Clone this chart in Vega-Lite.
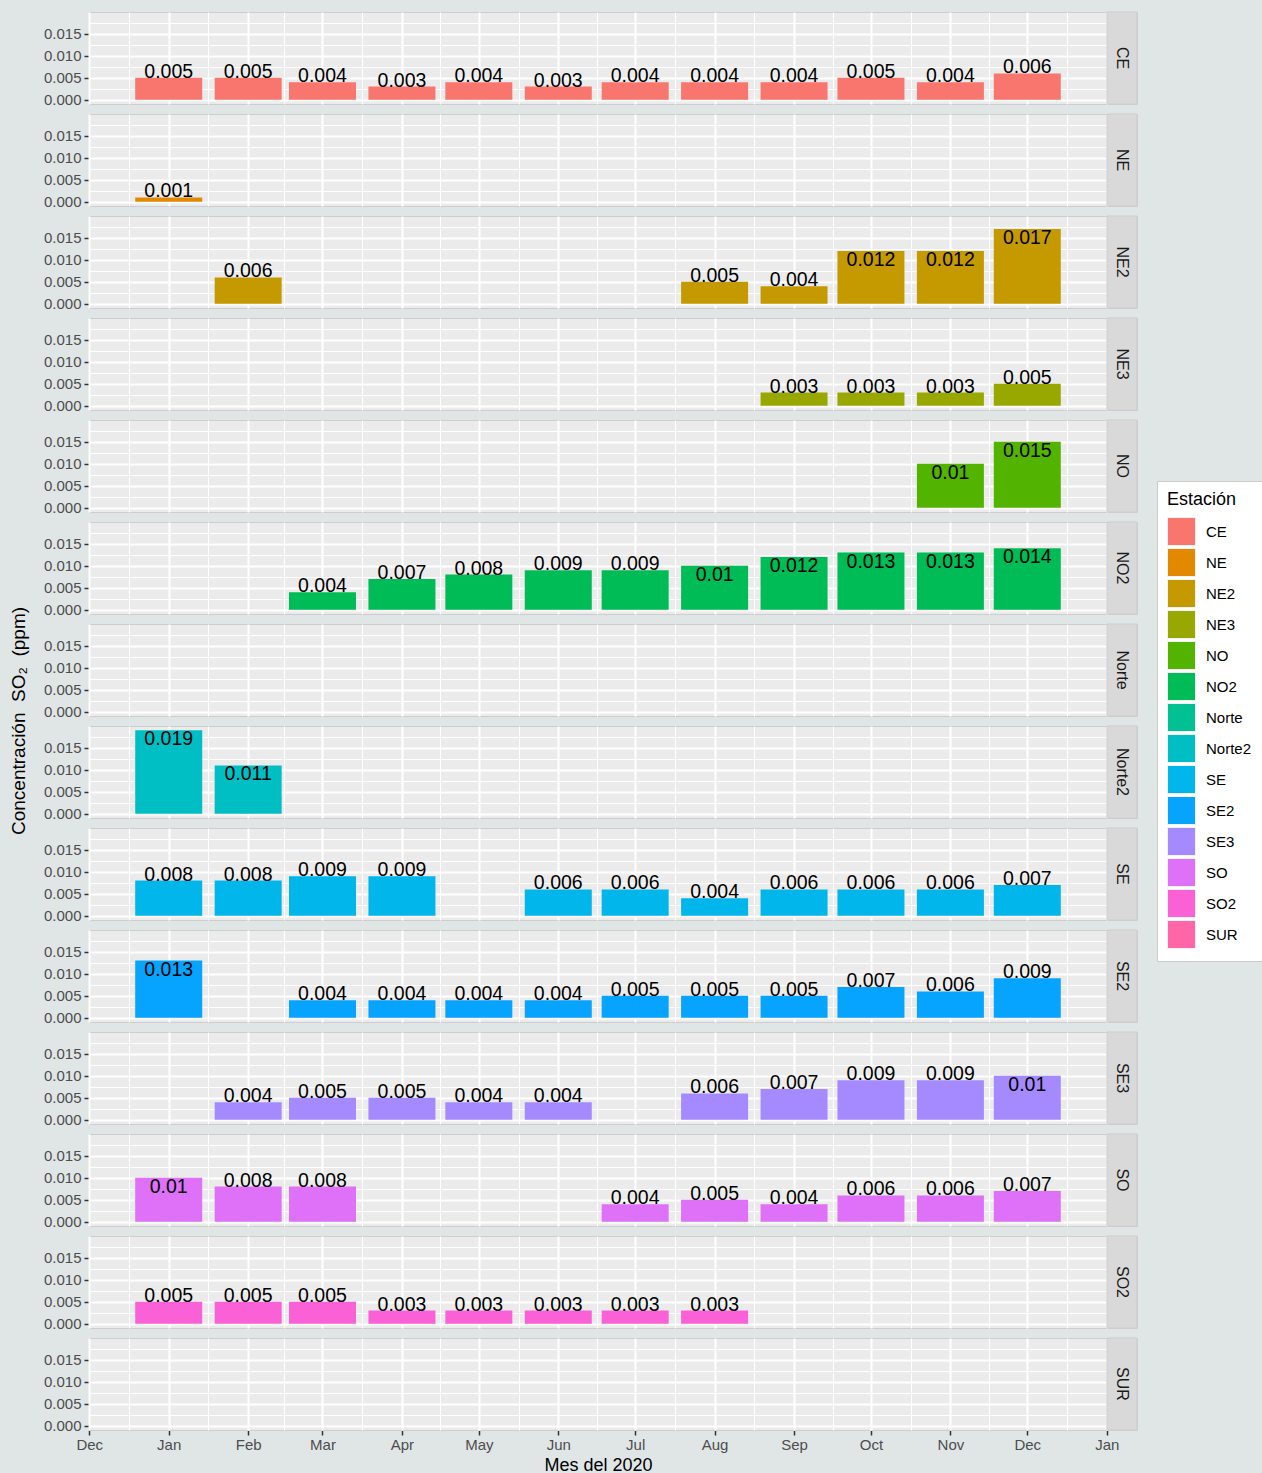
{
  "$schema": "https://vega.github.io/schema/vega-lite/v6.json",
  "background": "#E0E6E6",
  "padding": {"left": 9, "top": 11, "right": 0, "bottom": 0},
  "datasets": {
    "so2": [
      {"station": "CE", "mes": "2020-01-01", "v": 0.005},
      {"station": "CE", "mes": "2020-02-01", "v": 0.005},
      {"station": "CE", "mes": "2020-03-01", "v": 0.004},
      {"station": "CE", "mes": "2020-04-01", "v": 0.003},
      {"station": "CE", "mes": "2020-05-01", "v": 0.004},
      {"station": "CE", "mes": "2020-06-01", "v": 0.003},
      {"station": "CE", "mes": "2020-07-01", "v": 0.004},
      {"station": "CE", "mes": "2020-08-01", "v": 0.004},
      {"station": "CE", "mes": "2020-09-01", "v": 0.004},
      {"station": "CE", "mes": "2020-10-01", "v": 0.005},
      {"station": "CE", "mes": "2020-11-01", "v": 0.004},
      {"station": "CE", "mes": "2020-12-01", "v": 0.006},
      {"station": "NE", "mes": "2020-01-01", "v": 0.001},
      {"station": "NE2", "mes": "2020-02-01", "v": 0.006},
      {"station": "NE2", "mes": "2020-08-01", "v": 0.005},
      {"station": "NE2", "mes": "2020-09-01", "v": 0.004},
      {"station": "NE2", "mes": "2020-10-01", "v": 0.012},
      {"station": "NE2", "mes": "2020-11-01", "v": 0.012},
      {"station": "NE2", "mes": "2020-12-01", "v": 0.017},
      {"station": "NE3", "mes": "2020-09-01", "v": 0.003},
      {"station": "NE3", "mes": "2020-10-01", "v": 0.003},
      {"station": "NE3", "mes": "2020-11-01", "v": 0.003},
      {"station": "NE3", "mes": "2020-12-01", "v": 0.005},
      {"station": "NO", "mes": "2020-11-01", "v": 0.01},
      {"station": "NO", "mes": "2020-12-01", "v": 0.015},
      {"station": "NO2", "mes": "2020-03-01", "v": 0.004},
      {"station": "NO2", "mes": "2020-04-01", "v": 0.007},
      {"station": "NO2", "mes": "2020-05-01", "v": 0.008},
      {"station": "NO2", "mes": "2020-06-01", "v": 0.009},
      {"station": "NO2", "mes": "2020-07-01", "v": 0.009},
      {"station": "NO2", "mes": "2020-08-01", "v": 0.01},
      {"station": "NO2", "mes": "2020-09-01", "v": 0.012},
      {"station": "NO2", "mes": "2020-10-01", "v": 0.013},
      {"station": "NO2", "mes": "2020-11-01", "v": 0.013},
      {"station": "NO2", "mes": "2020-12-01", "v": 0.014},
      {"station": "Norte", "mes": "2020-01-01", "v": null},
      {"station": "Norte2", "mes": "2020-01-01", "v": 0.019},
      {"station": "Norte2", "mes": "2020-02-01", "v": 0.011},
      {"station": "SE", "mes": "2020-01-01", "v": 0.008},
      {"station": "SE", "mes": "2020-02-01", "v": 0.008},
      {"station": "SE", "mes": "2020-03-01", "v": 0.009},
      {"station": "SE", "mes": "2020-04-01", "v": 0.009},
      {"station": "SE", "mes": "2020-06-01", "v": 0.006},
      {"station": "SE", "mes": "2020-07-01", "v": 0.006},
      {"station": "SE", "mes": "2020-08-01", "v": 0.004},
      {"station": "SE", "mes": "2020-09-01", "v": 0.006},
      {"station": "SE", "mes": "2020-10-01", "v": 0.006},
      {"station": "SE", "mes": "2020-11-01", "v": 0.006},
      {"station": "SE", "mes": "2020-12-01", "v": 0.007},
      {"station": "SE2", "mes": "2020-01-01", "v": 0.013},
      {"station": "SE2", "mes": "2020-03-01", "v": 0.004},
      {"station": "SE2", "mes": "2020-04-01", "v": 0.004},
      {"station": "SE2", "mes": "2020-05-01", "v": 0.004},
      {"station": "SE2", "mes": "2020-06-01", "v": 0.004},
      {"station": "SE2", "mes": "2020-07-01", "v": 0.005},
      {"station": "SE2", "mes": "2020-08-01", "v": 0.005},
      {"station": "SE2", "mes": "2020-09-01", "v": 0.005},
      {"station": "SE2", "mes": "2020-10-01", "v": 0.007},
      {"station": "SE2", "mes": "2020-11-01", "v": 0.006},
      {"station": "SE2", "mes": "2020-12-01", "v": 0.009},
      {"station": "SE3", "mes": "2020-02-01", "v": 0.004},
      {"station": "SE3", "mes": "2020-03-01", "v": 0.005},
      {"station": "SE3", "mes": "2020-04-01", "v": 0.005},
      {"station": "SE3", "mes": "2020-05-01", "v": 0.004},
      {"station": "SE3", "mes": "2020-06-01", "v": 0.004},
      {"station": "SE3", "mes": "2020-08-01", "v": 0.006},
      {"station": "SE3", "mes": "2020-09-01", "v": 0.007},
      {"station": "SE3", "mes": "2020-10-01", "v": 0.009},
      {"station": "SE3", "mes": "2020-11-01", "v": 0.009},
      {"station": "SE3", "mes": "2020-12-01", "v": 0.01},
      {"station": "SO", "mes": "2020-01-01", "v": 0.01},
      {"station": "SO", "mes": "2020-02-01", "v": 0.008},
      {"station": "SO", "mes": "2020-03-01", "v": 0.008},
      {"station": "SO", "mes": "2020-07-01", "v": 0.004},
      {"station": "SO", "mes": "2020-08-01", "v": 0.005},
      {"station": "SO", "mes": "2020-09-01", "v": 0.004},
      {"station": "SO", "mes": "2020-10-01", "v": 0.006},
      {"station": "SO", "mes": "2020-11-01", "v": 0.006},
      {"station": "SO", "mes": "2020-12-01", "v": 0.007},
      {"station": "SO2", "mes": "2020-01-01", "v": 0.005},
      {"station": "SO2", "mes": "2020-02-01", "v": 0.005},
      {"station": "SO2", "mes": "2020-03-01", "v": 0.005},
      {"station": "SO2", "mes": "2020-04-01", "v": 0.003},
      {"station": "SO2", "mes": "2020-05-01", "v": 0.003},
      {"station": "SO2", "mes": "2020-06-01", "v": 0.003},
      {"station": "SO2", "mes": "2020-07-01", "v": 0.003},
      {"station": "SO2", "mes": "2020-08-01", "v": 0.003},
      {"station": "SUR", "mes": "2020-01-01", "v": null}
    ]
  },
  "data": {"name": "so2"},
  "bounds": "flush",
  "facet": {
    "row": {
      "field": "station", "type": "nominal",
      "sort": ["CE","NE","NE2","NE3","NO","NO2","Norte","Norte2","SE","SE2","SE3","SO","SO2","SUR"],
      "header": {"labels": false, "title": "Concentración\u00a0\u00a0SO₂\u00a0\u00a0(ppm)", "titleOrient": "left", "titlePadding": 4}
    }
  },
  "spacing": {"row": 10},
  "spec": {
    "width": 1048,
    "height": 92,
    "view": {"fill": "#EBEBEB", "stroke": "#CDCDCD"},
    "layer": [
      {
        "encoding": {
          "x": {
            "field": "mes", "type": "temporal",
            "scale": {"type": "utc", "range": [0, 1018], "padding": 0, "domain": [
              {"year": 2019, "month": 11, "date": 30, "hours": 21, "minutes": 29, "utc": true},
              {"year": 2021, "month": 1, "date": 1, "hours": 2, "minutes": 31, "utc": true}
            ]},
            "axis": {
              "title": "Mes del 2020",
              "values": [
                {"year": 2019, "month": 12, "date": 1, "utc": true},
                {"year": 2019, "month": 12, "date": 16, "hours": 12, "utc": true},
                {"year": 2020, "month": 1, "date": 1, "utc": true},
                {"year": 2020, "month": 1, "date": 16, "hours": 12, "utc": true},
                {"year": 2020, "month": 2, "date": 1, "utc": true},
                {"year": 2020, "month": 2, "date": 15, "utc": true},
                {"year": 2020, "month": 3, "date": 1, "utc": true},
                {"year": 2020, "month": 3, "date": 16, "hours": 12, "utc": true},
                {"year": 2020, "month": 4, "date": 1, "utc": true},
                {"year": 2020, "month": 4, "date": 16, "utc": true},
                {"year": 2020, "month": 5, "date": 1, "utc": true},
                {"year": 2020, "month": 5, "date": 16, "hours": 12, "utc": true},
                {"year": 2020, "month": 6, "date": 1, "utc": true},
                {"year": 2020, "month": 6, "date": 16, "utc": true},
                {"year": 2020, "month": 7, "date": 1, "utc": true},
                {"year": 2020, "month": 7, "date": 16, "hours": 12, "utc": true},
                {"year": 2020, "month": 8, "date": 1, "utc": true},
                {"year": 2020, "month": 8, "date": 16, "hours": 12, "utc": true},
                {"year": 2020, "month": 9, "date": 1, "utc": true},
                {"year": 2020, "month": 9, "date": 16, "utc": true},
                {"year": 2020, "month": 10, "date": 1, "utc": true},
                {"year": 2020, "month": 10, "date": 16, "hours": 12, "utc": true},
                {"year": 2020, "month": 11, "date": 1, "utc": true},
                {"year": 2020, "month": 11, "date": 16, "utc": true},
                {"year": 2020, "month": 12, "date": 1, "utc": true},
                {"year": 2020, "month": 12, "date": 16, "hours": 12, "utc": true},
                {"year": 2021, "month": 1, "date": 1, "utc": true}
              ],
              "labelExpr": "utcdate(datum.value) == 1 ? utcFormat(datum.value, '%b') : ''",
              "labelFlush": false,
              "labelOverlap": false,
              "gridWidth": {"condition": {"test": "utcdate(datum.value) != 1", "value": 1}, "value": 2},
              "tickOpacity": {"condition": {"test": "utcdate(datum.value) != 1", "value": 0}, "value": 1},
              "labelPadding": 2,
              "titlePadding": 4
            }
          },
          "y": {
            "field": "v", "type": "quantitative",
            "scale": {"domain": [-0.00095, 0.01995], "nice": false},
            "axis": {
              "title": null,
              "values": [0, 0.0025, 0.005, 0.0075, 0.01, 0.0125, 0.015, 0.0175],
              "labelExpr": "round(datum.value * 10000) % 50 == 0 ? format(datum.value, '.3f') : ''",
              "labelOverlap": false,
              "gridWidth": {"condition": {"test": "round(datum.value * 10000) % 50 != 0", "value": 1}, "value": 2},
              "tickOpacity": {"condition": {"test": "round(datum.value * 10000) % 50 != 0", "value": 0}, "value": 1},
              "labelPadding": 3
            }
          }
        },
        "layer": [
          {
            "mark": {"type": "bar", "width": 67},
            "encoding": {
              "color": {
                "field": "station", "type": "nominal", "title": "Estación",
                "scale": {
                  "domain": ["CE","NE","NE2","NE3","NO","NO2","Norte","Norte2","SE","SE2","SE3","SO","SO2","SUR"],
                  "range": ["#F8766D","#E38900","#C49A00","#99A800","#53B400","#00BC56","#00C094","#00BFC4","#00B6EB","#06A4FF","#A58AFF","#DF70F8","#FB61D7","#FF66A8"]
                },
                "legend": {
                  "orient": "none", "legendX": 1068, "legendY": 469,
                  "fillColor": "white", "strokeColor": "#CCCCCC", "padding": 10,
                  "symbolType": "square", "symbolSize": 784, "symbolOpacity": 1,
                  "symbolStrokeColor": "#F2F2F2", "symbolStrokeWidth": 1,
                  "labelOffset": 10, "rowPadding": -2, "titlePadding": 8
                }
              }
            }
          },
          {
            "transform": [{"filter": "datum.v != null && datum.v < 0.0095"}],
            "mark": {"type": "text", "baseline": "alphabetic", "fontSize": 19.5, "color": "black", "font": "Liberation Sans"},
            "encoding": {"text": {"field": "v", "type": "quantitative", "format": ".3~f"}}
          },
          {
            "transform": [{"filter": "datum.v != null && datum.v >= 0.0095"}],
            "mark": {"type": "text", "baseline": "top", "fontSize": 19.5, "color": "black", "font": "Liberation Sans"},
            "encoding": {"text": {"field": "v", "type": "quantitative", "format": ".3~f"}}
          }
        ]
      },
      {
        "transform": [{"aggregate": [{"op": "count", "as": "n"}], "groupby": ["station"]}],
        "layer": [
          {
            "mark": {"type": "rect", "color": "#D9D9D9", "stroke": "#CDCDCD", "strokeWidth": 1},
            "encoding": {
              "x": {"datum": {"year": 2021, "month": 1, "date": 1, "hours": 2, "minutes": 31, "utc": true}, "type": "temporal"},
              "x2": {"datum": {"year": 2021, "month": 1, "date": 12, "hours": 19, "minutes": 33, "utc": true}}
            }
          },
          {
            "mark": {"type": "text", "angle": 90, "fontSize": 16, "color": "#1A1A1A", "font": "Liberation Sans", "align": "center", "baseline": "middle"},
            "encoding": {
              "x": {"datum": {"year": 2021, "month": 1, "date": 6, "hours": 23, "utc": true}, "type": "temporal"},
              "text": {"field": "station", "type": "nominal"}
            }
          }
        ]
      }
    ]
  },
  "config": {
    "font": "Liberation Sans",
    "axis": {
      "labelFont": "Liberation Sans", "labelFontSize": 15, "labelColor": "#4D4D4D",
      "titleFont": "Liberation Sans", "titleFontSize": 18, "titleFontWeight": "normal", "titleColor": "black",
      "tickColor": "#333333", "tickSize": 5, "tickWidth": 1.5, "domain": false,
      "gridColor": "white"
    },
    "header": {"titleFont": "Liberation Sans", "titleFontSize": 19, "titleFontWeight": "normal", "titleColor": "black"},
    "legend": {
      "titleFont": "Liberation Sans", "titleFontSize": 18, "titleFontWeight": "normal", "titleColor": "black",
      "labelFont": "Liberation Sans", "labelFontSize": 15, "labelColor": "black"
    }
  }
}
